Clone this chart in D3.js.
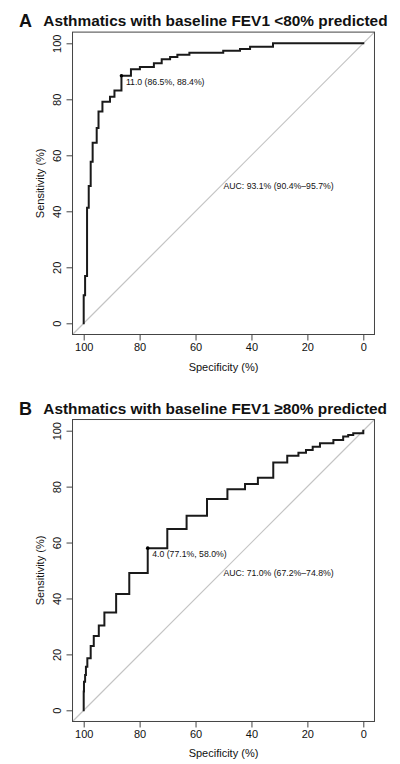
<!DOCTYPE html>
<html><head><meta charset="utf-8">
<script src="https://cdn.jsdelivr.net/npm/d3@7"></script>
<style>
html,body{margin:0;padding:0;background:#fff;}
svg{display:block;font-family:"Liberation Sans",Arial,Helvetica,sans-serif;}
</style></head>
<body>
<script>
// ---- data ----
const xTicks = [100, 80, 60, 40, 20, 0];
const yTicks = [0, 20, 40, 60, 80, 100];
const panelLetters = ["A", "B"];
const panelTitles = ["Asthmatics with baseline FEV1 <80% predicted", "Asthmatics with baseline FEV1 ≥80% predicted"];
// specificity where the curve rises, and sensitivity reached there
const specA = [100, 99.5, 98.8, 98.2, 97.5, 96.8, 95.35, 94.7, 93.3, 90.6, 89.0, 86.5, 83.1, 79.9, 74.9, 72.1, 69.1, 66.5, 62.2, 50.1, 44.1, 40.5, 32.3, 0];
const sensA = [10.0, 16.9, 41.3, 49.0, 57.7, 64.5, 69.75, 75.6, 79.1, 80.9, 83.1, 88.4, 90.7, 91.5, 92.9, 94.3, 95.1, 95.9, 96.6, 97.3, 98.0, 98.8, 100, 100];
const specB = [100, 99.9, 99.5, 99.2, 98.7, 97.5, 96.4, 94.6, 92.6, 88.4, 83.7, 77.1, 70.1, 63.2, 55.9, 48.6, 42.3, 37.7, 32.2, 27.2, 23.2, 20.5, 18.1, 15.5, 10.7, 7.2, 5.4, 3.6, 0];
const sensB = [6.7, 10.2, 12.6, 15.6, 18.6, 23.0, 26.6, 30.3, 35.0, 41.6, 49.1, 58.0, 64.8, 69.6, 75.6, 79.1, 80.9, 83.2, 88.6, 91.0, 92.1, 93.1, 94.3, 95.5, 96.7, 97.9, 98.5, 99.1, 100];
const cutoffs = [{label: "11.0", spec: 86.5, sens: 88.4}, {label: "4.0", spec: 77.1, sens: 58.0}];
const aucText = ["AUC: 93.1% (90.4%–95.7%)", "AUC: 71.0% (67.2%–74.8%)"];

const W = 400, H = 764;
const svg = d3.select("body").append("svg").attr("width", W).attr("height", H);

function panel(i, spec, sens, yTop, yBottom, titleBase) {
  const x = d3.scaleLinear().domain([100, 0]).range([83.7, 363.3]);
  const y = d3.scaleLinear().domain([0, 100]).range([yBottom, yTop]);
  const g = svg.append("g");

  // titles
  g.append("text").attr("x", 19).attr("y", titleBase + 1).attr("font-size", 18).attr("font-weight", "bold").attr("fill", "#111").text(panelLetters[i]);
  g.append("text").attr("x", 43.3).attr("y", titleBase).attr("font-size", 15.4).attr("font-weight", "bold").attr("fill", "#111").text(panelTitles[i]);

  // diagonal
  g.append("line")
    .attr("x1", x(104)).attr("y1", y(-4)).attr("x2", x(-4)).attr("y2", y(104))
    .attr("stroke", "#c4c4c4").attr("stroke-width", 1.2);

  // box
  g.append("rect").attr("x", x(104)).attr("y", y(104))
    .attr("width", x(-4) - x(104)).attr("height", y(-4) - y(104))
    .attr("fill", "none").attr("stroke", "#444").attr("stroke-width", 1);

  // x axis
  const xa = g.append("g").attr("transform", `translate(0,${y(-4)})`)
    .call(d3.axisBottom(x).tickValues(xTicks).tickSize(6).tickPadding(3));
  xa.select(".domain").remove();
  xa.selectAll(".tick line").attr("stroke", "#444");
  xa.selectAll(".tick text").attr("font-size", 11).attr("fill", "#111").attr("font-family", "Liberation Sans, Arial, sans-serif");

  // y axis
  const ya = g.append("g").attr("transform", `translate(${x(104)},0)`)
    .call(d3.axisLeft(y).tickValues(yTicks).tickSize(6).tickFormat(d3.format("d")));
  ya.select(".domain").remove();
  ya.selectAll(".tick line").attr("stroke", "#444");
  ya.selectAll(".tick text").remove();
  ya.selectAll(".tick").append("text")
    .attr("transform", "translate(-15.4,0) rotate(-90)")
    .attr("text-anchor", "middle").attr("dy", "0.35em")
    .attr("font-size", 11).attr("fill", "#111").attr("font-family", "Liberation Sans, Arial, sans-serif")
    .text(d => d);

  // axis titles
  g.append("text").attr("x", (x(100) + x(0)) / 2).attr("y", y(-4) + 36)
    .attr("text-anchor", "middle").attr("font-size", 11).attr("fill", "#111").text("Specificity (%)");
  g.append("text").attr("transform", `translate(44,${(y(-4) + y(104)) / 2}) rotate(-90)`)
    .attr("text-anchor", "middle").attr("font-size", 11).attr("fill", "#111").text("Sensitivity (%)");

  // ROC curve vertices
  const pts = [[spec[0], 0]];
  let prev = 0;
  for (let k = 0; k < spec.length; k++) {
    pts.push([spec[k], prev]);
    pts.push([spec[k], sens[k]]);
    prev = sens[k];
  }
  const line = d3.line().x(d => x(d[0])).y(d => y(d[1]));
  g.append("path").attr("d", line(pts)).attr("fill", "none")
    .attr("stroke", "#1a1a1a").attr("stroke-width", 2).attr("stroke-linejoin", "miter").attr("stroke-linecap", "square");

  // cutoff point
  const c = cutoffs[i];
  g.append("circle").attr("cx", x(c.spec)).attr("cy", y(c.sens)).attr("r", 1.8).attr("fill", "#000");
  g.append("text").attr("x", x(c.spec) + 4.5).attr("y", y(c.sens) + 9)
    .attr("font-size", 8.7).attr("fill", "#111")
    .text(`${c.label} (${c.spec.toFixed(1)}%, ${c.sens.toFixed(1)}%)`);

  // AUC
  g.append("text").attr("x", x(50)).attr("y", y(50) + 5.7)
    .attr("font-size", 8.7).attr("fill", "#111").text(aucText[i]);
}

panel(0, specA, sensA, 43.3, 323.3, 26.3);
panel(1, specB, sensB, 430.7, 710.3, 413.5);
</script>
</body></html>
